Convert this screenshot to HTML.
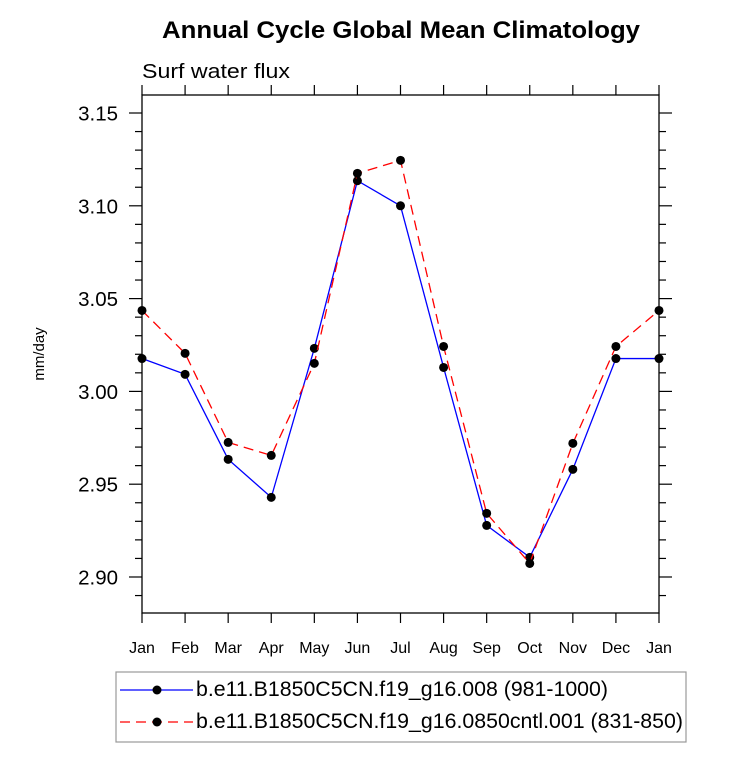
<!DOCTYPE html>
<html><head><meta charset="utf-8"><style>
body{margin:0;background:#fff;}
svg text{font-family:"Liberation Sans",sans-serif;}
</style></head><body>
<svg id="chart" width="733" height="763" xmlns="http://www.w3.org/2000/svg">
<text x="162" y="38" font-size="24" font-weight="bold" textLength="478" lengthAdjust="spacingAndGlyphs">Annual Cycle Global Mean Climatology</text>
<text x="142" y="78" font-size="20.5" textLength="148" lengthAdjust="spacingAndGlyphs">Surf water flux</text>
<text transform="translate(44,354) rotate(-90)" text-anchor="middle" font-size="15">mm/day</text>
<g id="axes"></g>
<g id="series"></g>
<rect x="116" y="672" width="570" height="70" fill="none" stroke="#999" stroke-width="1.2"/>
<g>
<line x1="120" y1="690" x2="193" y2="690" stroke="#0000ff" stroke-width="1.2"/>
<circle cx="157" cy="690" r="4.5" fill="#000"/>
<text x="196" y="696" font-size="21" textLength="412" lengthAdjust="spacingAndGlyphs">b.e11.B1850C5CN.f19_g16.008 (981-1000)</text>
</g>
<g>
<line x1="120" y1="722" x2="193" y2="722" stroke="#ff0000" stroke-width="1.2" stroke-dasharray="10,6"/>
<circle cx="157" cy="722" r="4.5" fill="#000"/>
<text x="196" y="728" font-size="21" textLength="487" lengthAdjust="spacingAndGlyphs">b.e11.B1850C5CN.f19_g16.0850cntl.001 (831-850)</text>
</g>
</svg>
<script>
const months = ["Jan","Feb","Mar","Apr","May","Jun","Jul","Aug","Sep","Oct","Nov","Dec","Jan"];
const blueValues = [3.0177,3.0092,2.9634,2.9429,3.0232,3.1135,3.1000,3.0129,2.9278,2.9106,2.9580,3.0177,3.0177];
const redValues = [3.0436,3.0205,2.9725,2.9655,3.0151,3.1175,3.1245,3.0242,2.9343,2.9073,2.9720,3.0242,3.0436];
const yTicks = [2.90,2.95,3.00,3.05,3.10,3.15];
const yTickLabels = ["2.90","2.95","3.00","3.05","3.10","3.15"];

const L=142,R=659,T=95,B=613,Y0=2.8806,Y1=3.1597;
const NS="http://www.w3.org/2000/svg";
function xs(i){return L+(R-L)*i/(months.length-1);}
function ys(v){return B-(v-Y0)/(Y1-Y0)*(B-T);}
function mk(tag,attrs,parent){const e=document.createElementNS(NS,tag);for(const k in attrs)e.setAttribute(k,attrs[k]);parent.appendChild(e);return e;}
const ax=document.getElementById('axes');
const frame=mk('rect',{x:L,y:T,width:R-L,height:B-T,fill:'none',stroke:'#000','stroke-width':1.3},ax);


months.forEach((m,i)=>{
  const x=xs(i);
  const t1=mk('line',{x1:x,y1:B,x2:x,y2:B+10,stroke:'#000','stroke-width':1.2},ax);
  
  
  const t2=mk('line',{x1:x,y1:T,x2:x,y2:T-10,stroke:'#000','stroke-width':1.2},ax);
  
  
  const lb=mk('text',{x:x,y:653,'text-anchor':'middle','font-size':16},ax);
  lb.textContent=m;
  
  
});
for(let k=0;k<=28;k++){
  const v=2.88+k*0.01; const y=ys(v);
  if(y<T-0.5||y>B+0.5)continue;
  const major=Math.abs(Math.round(v*100)%5)===0;
  const len=major?13:7;
  const a=mk('line',{x1:L,y1:y,x2:L-len,y2:y,stroke:'#000','stroke-width':1.2},ax);
  
  
  const b=mk('line',{x1:R,y1:y,x2:R+len,y2:y,stroke:'#000','stroke-width':1.2},ax);
  
  
}
yTicks.forEach((v,i)=>{
  const t=mk('text',{x:L-24,y:ys(v)+7.5,'text-anchor':'end','font-size':20.5},ax);
  t.textContent=yTickLabels[i];
  
  
});
const sg=document.getElementById('series');
function drawSeries(vals,color,dash,name){
  const pts=vals.map((v,i)=>xs(i)+','+ys(v)).join(' ');
  const pl=mk('polyline',{points:pts,fill:'none',stroke:color,'stroke-width':1.3},sg);
  if(dash)pl.setAttribute('stroke-dasharray',dash);
  
  
  vals.forEach((v,i)=>{
    const c=mk('circle',{cx:xs(i),cy:ys(v),r:4.5,fill:'#000'},sg);
    
    
  });
}
drawSeries(blueValues,'#0000ff',null,'blue-series');
drawSeries(redValues,'#ff0000','10,6','red-series');
</script>
</body></html>
